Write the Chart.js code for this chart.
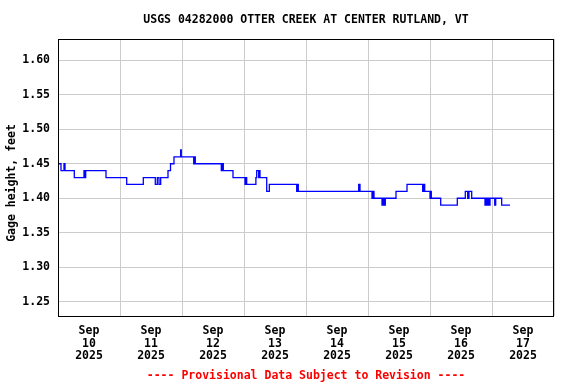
<!DOCTYPE html>
<html><head><meta charset="utf-8">
<script src="https://cdn.jsdelivr.net/npm/chart.js@4"></script>
<style>html,body{margin:0;padding:0;background:#fff}#wrap{width:576px;height:384px}</style>
</head><body><div id="wrap"><canvas id="c" width="576" height="384"></canvas></div>
<script>
const TITLE = "USGS 04282000 OTTER CREEK AT CENTER RUTLAND, VT";
const FOOTER = "---- Provisional Data Subject to Revision ----";
const Y_TITLE = "Gage height, feet";
// x labels: one per day, placed at noon; grid lines at midnight
const dayLabels = [["Sep","10","2025"],["Sep","11","2025"],["Sep","12","2025"],["Sep","13","2025"],
                   ["Sep","14","2025"],["Sep","15","2025"],["Sep","16","2025"],["Sep","17","2025"]];
const tickHours = [0,12,24,36,48,60,72,84,96,108,120,132,144,156,168,180,192];
const yTicks = [1.25,1.30,1.35,1.40,1.45,1.50,1.55,1.60];
// hours since Sep 10 2025 00:00, gage height (ft) from that time on
const hours = [0.00,1.16,2.32,2.71,6.31,10.06,10.34,10.72,18.58,26.59,33.02,37.66,38.44,39.10,39.75,
  42.58,43.55,44.90,47.48,47.72,52.53,52.84,53.15,63.21,63.60,63.99,67.74,72.39,72.77,73.04,76.60,76.92,
  77.69,77.92,78.19,80.79,81.80,92.40,92.71,93.02,116.40,116.90,121.55,121.82,122.32,125.42,125.92,126.19,
  126.70,130.84,135.10,141.17,141.48,141.95,144.00,144.19,144.50,148.14,154.57,157.66,158.59,159.09,160.14,
  165.29,165.68,165.95,166.45,166.95,167.23,169.05,169.43,171.75,174.97];
const gage = [1.45,1.44,1.45,1.44,1.43,1.44,1.43,1.44,1.43,1.42,1.43,1.42,1.43,1.42,1.43,
  1.44,1.45,1.46,1.47,1.46,1.45,1.46,1.45,1.44,1.45,1.44,1.43,1.42,1.43,1.42,1.43,1.44,
  1.43,1.44,1.43,1.41,1.42,1.41,1.42,1.41,1.42,1.41,1.40,1.41,1.40,1.39,1.40,1.39,
  1.40,1.41,1.42,1.41,1.42,1.41,1.40,1.41,1.40,1.39,1.40,1.41,1.40,1.41,1.40,
  1.39,1.40,1.39,1.40,1.39,1.40,1.39,1.40,1.39,1.39];

const FONT = {family:"'DejaVu Sans Mono', monospace", size:11.5, weight:'bold', lineHeight:1.09};
const fontStr = "bold 11.5px 'DejaVu Sans Mono', monospace";

const decor = {
  id:'decor',
  afterDraw(chart){
    const ctx = chart.ctx, a = chart.chartArea;
    ctx.save();
    ctx.strokeStyle = '#000'; ctx.lineWidth = 1;
    ctx.strokeRect(Math.round(a.left)+0.5, Math.round(a.top)+0.5, Math.round(a.right-a.left)-1, Math.round(a.bottom-a.top));
    ctx.font = fontStr; ctx.textAlign = 'center'; ctx.textBaseline = 'middle';
    ctx.fillStyle = '#000';
    ctx.fillText(TITLE, 306, 20);
    ctx.fillStyle = '#ff0000';
    ctx.fillText(FOOTER, 306, 376);
    ctx.fillStyle = '#000';
    ctx.translate(12, 183); ctx.rotate(-Math.PI/2);
    ctx.fillText(Y_TITLE, 0, 0);
    ctx.restore();
  }
};

new Chart(document.getElementById('c'), {
  type:'line',
  data:{datasets:[{
    data: hours.map((h,i)=>({x:h, y:gage[i]})),
    borderColor:'#0000ff', borderWidth:1.3, pointRadius:0, stepped:true, fill:false, tension:0
  }]},
  options:{
    responsive:false, animation:false, devicePixelRatio:1,
    layout:{padding:{left:0, right:22, top:39, bottom:0}},
    plugins:{legend:{display:false}, tooltip:{enabled:false}, title:{display:false}},
    scales:{
      x:{type:'linear', min:0, max:192,
        afterBuildTicks:s=>{ s.ticks = tickHours.map(v=>({value:v})); },
        ticks:{autoSkip:false, maxRotation:0, minRotation:0, padding:9, color:'#000', font:FONT,
          callback:v=> (v % 24 === 12) ? dayLabels[(v-12)/24] : ''},
        grid:{color:c=> (c.tick && c.tick.value % 24 === 0) ? '#cccccc' : 'rgba(0,0,0,0)', drawTicks:false, lineWidth:1},
        border:{display:false},
        afterFit:s=>{ s.height = 68; }
      },
      y:{min:1.2293, max:1.6309,
        afterBuildTicks:s=>{ s.ticks = yTicks.map(v=>({value:v})); },
        ticks:{padding:8, color:'#000', font:FONT, callback:v=>v.toFixed(2)},
        grid:{color:'#cccccc', drawTicks:false, lineWidth:1},
        border:{display:false},
        afterFit:s=>{ s.width = 58; }
      }
    }
  },
  plugins:[decor]
});
</script></body></html>
